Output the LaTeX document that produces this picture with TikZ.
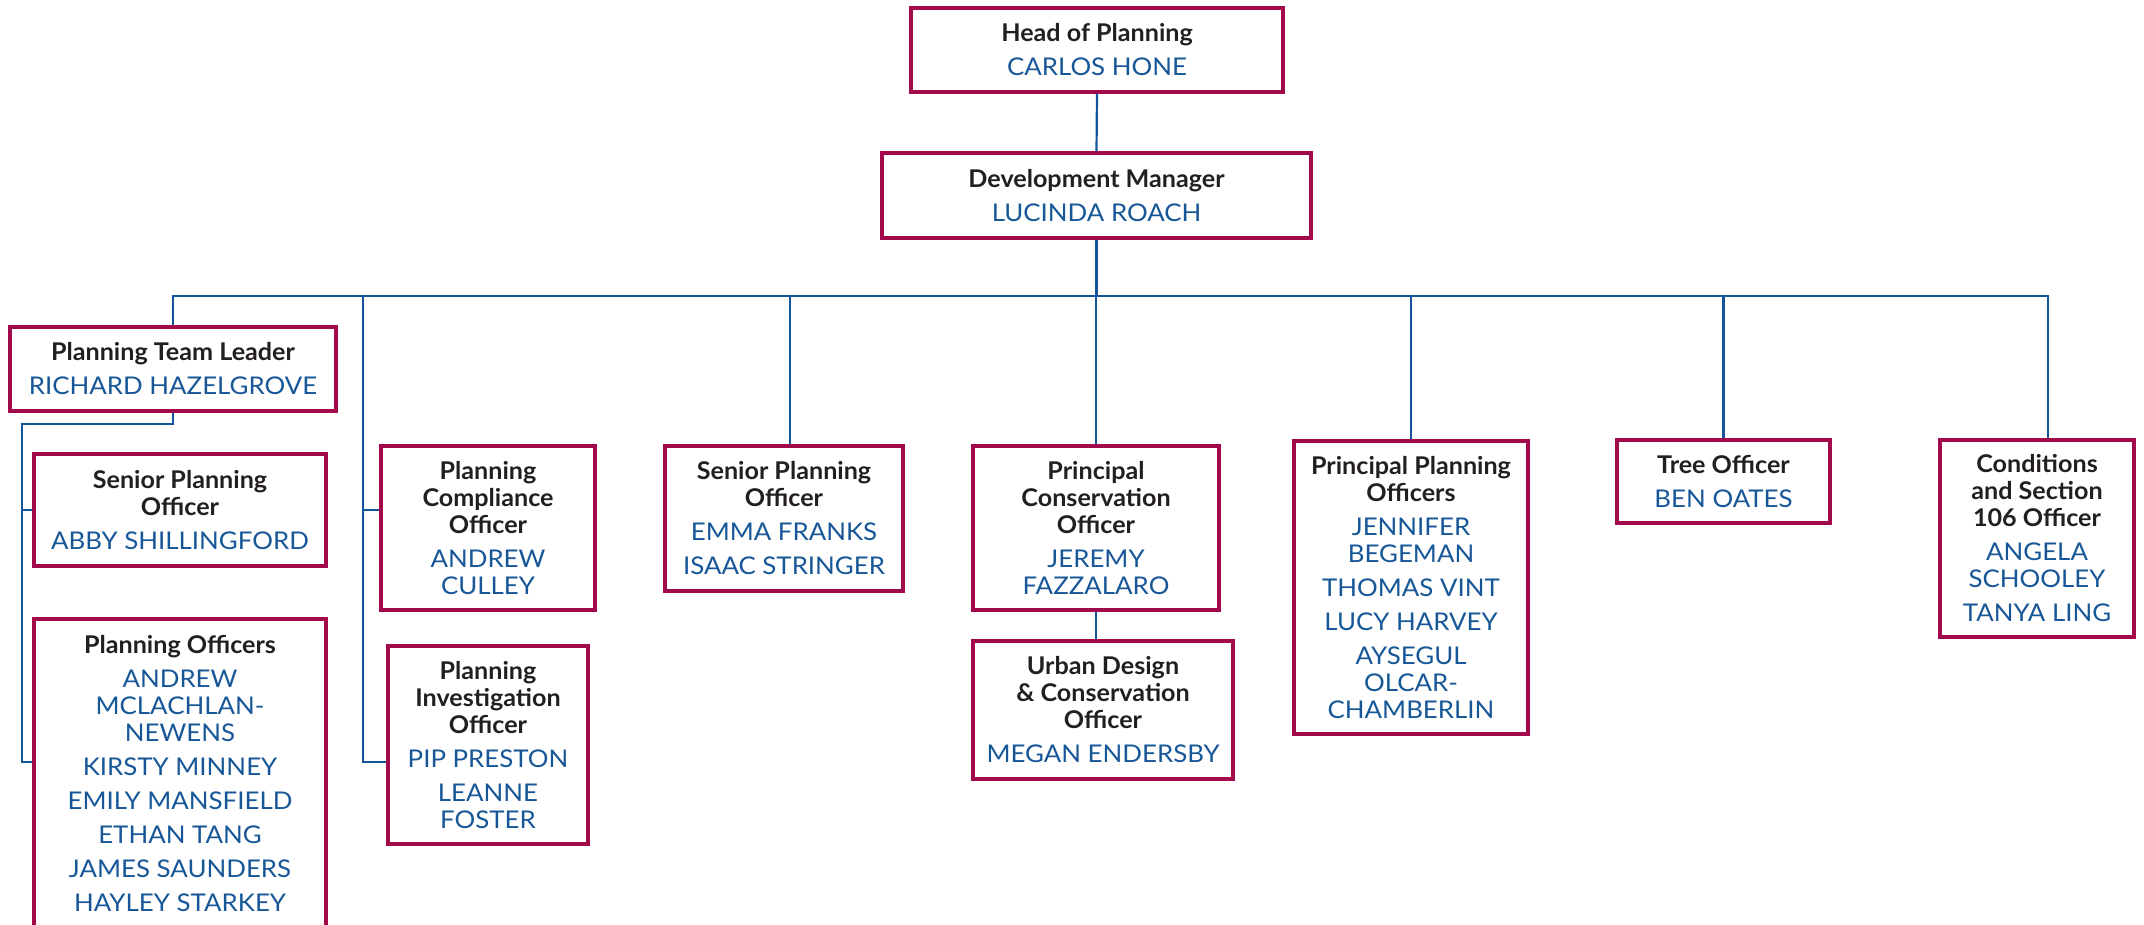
\documentclass[tikz,border=0pt]{standalone}
\usepackage{fontspec}
\setmainfont{Lato}[FakeStretch=1.03]
\newfontfamily\nmfont{Lato}[FakeStretch=1.06]
\definecolor{crim}{HTML}{A30A4B}
\definecolor{nblue}{HTML}{175798}
\definecolor{lblue}{HTML}{14549A}
\definecolor{tdark}{HTML}{231F20}
\newcommand\ttl[1]{{\bfseries\color{tdark}#1}}
\newcommand\nm[1]{{\nmfont\color{nblue}#1}}
\tikzset{
  box/.style={draw=crim, line width=3.2pt, fill=white, align=center, inner sep=0pt,
    font=\fontsize{24.4}{27}\selectfont},
  sz/.style 2 args={minimum width=#1pt, minimum height=#2pt},
  conn/.style={draw=lblue, line width=2.2pt},
}
\begin{document}
\begin{tikzpicture}[x=1pt,y=-1pt]
\useasboundingbox (0,0) rectangle (2144,925);
\clip (0,0) rectangle (2144,925);

% boxes
\node[box, sz={372}{84}] (head) at (1097,50) {\ttl{Head of Planning}\\[7pt]\nm{CARLOS HONE}};
\node[box, sz={429}{85}] (dm) at (1096.5,195.5) {\ttl{Development Manager}\\[7pt]\nm{LUCINDA ROACH}};

\node[box, sz={326}{84}] (ptl) at (173,369) {\ttl{Planning Team Leader}\\[7pt]\nm{RICHARD HAZELGROVE}};
\node[box, sz={292}{112}] (spoa) at (180,510) {\ttl{Senior Planning}\\\ttl{Officer}\\[7pt]\nm{ABBY SHILLINGFORD}};
\node[box, sz={292}{309}] (po) at (180,773.5) {\ttl{Planning Officers}\\[7pt]\nm{ANDREW}\\\nm{MCLACHLAN-}\\\nm{NEWENS}\\[7pt]\nm{KIRSTY MINNEY}\\[7pt]\nm{EMILY MANSFIELD}\\[7pt]\nm{ETHAN TANG}\\[7pt]\nm{JAMES SAUNDERS}\\[7pt]\nm{HAYLEY STARKEY}};

\node[box, sz={214}{164}] (pco) at (488,528) {\ttl{Planning}\\\ttl{Compliance}\\\ttl{Officer}\\[7pt]\nm{ANDREW}\\\nm{CULLEY}};
\node[box, sz={200}{198}] (pio) at (488,745) {\ttl{Planning}\\\ttl{Investigation}\\\ttl{Officer}\\[7pt]\nm{PIP PRESTON}\\[7pt]\nm{LEANNE}\\\nm{FOSTER}};

\node[box, sz={238}{145}] (spob) at (784,518.5) {\ttl{Senior Planning}\\\ttl{Officer}\\[7pt]\nm{EMMA FRANKS}\\[7pt]\nm{ISAAC STRINGER}};

\node[box, sz={246}{164}] (pcons) at (1096,528) {\ttl{Principal}\\\ttl{Conservation}\\\ttl{Officer}\\[7pt]\nm{JEREMY}\\\nm{FAZZALARO}};
\node[box, sz={260}{138}] (urban) at (1103,710) {\ttl{Urban Design}\\\ttl{\& Conservation}\\\ttl{Officer}\\[7pt]\nm{MEGAN ENDERSBY}};

\node[box, sz={234}{293}] (ppo) at (1411,587.5) {\ttl{Principal Planning}\\\ttl{Officers}\\[7pt]\nm{JENNIFER}\\\nm{BEGEMAN}\\[7pt]\nm{THOMAS VINT}\\[7pt]\nm{LUCY HARVEY}\\[7pt]\nm{AYSEGUL}\\\nm{OLCAR-}\\\nm{CHAMBERLIN}};

\node[box, sz={213}{83}] (tree) at (1723.5,481.5) {\ttl{Tree Officer}\\[7pt]\nm{BEN OATES}};
\node[box, sz={194}{197}] (cond) at (2037,538.5) {\ttl{Conditions}\\\ttl{and Section}\\\ttl{106 Officer}\\[7pt]\nm{ANGELA}\\\nm{SCHOOLEY}\\[7pt]\nm{TANYA LING}};

% helper coordinates
\coordinate (bus) at (0,296);
\coordinate (lb) at (363,296);
\coordinate (pl) at (22,424);
\coordinate (spobtop) at ([xshift=6pt]spob.north);
\coordinate (condtop) at ([xshift=11pt]cond.north);
\coordinate (pcoin) at ([yshift=18pt]pco.west);
\coordinate (pioin) at ([yshift=-17pt]pio.west);
\coordinate (poin) at ([yshift=11.5pt]po.west);

% connectors
\draw[conn] (head.south) -- (dm.north);
\draw[conn] (dm.south) -- (dm.south |- bus);
\draw[conn] (ptl.north) -- (ptl.north |- bus) -- (condtop |- bus) -- (condtop);
\draw[conn] (spobtop |- bus) -- (spobtop);
\draw[conn] (pcons.north |- bus) -- (pcons.north);
\draw[conn] (ppo.north |- bus) -- (ppo.north);
\draw[conn] (tree.north |- bus) -- (tree.north);
\draw[conn] (pcons.south) -- (pcons.south |- urban.north);

\draw[conn] (lb) -- (lb |- pioin) -- (pioin);
\draw[conn] (lb |- pcoin) -- (pcoin);

\draw[conn] (ptl.south) -- (ptl.south |- pl) -- (pl) -- (pl |- poin) -- (poin);
\draw[conn] (pl |- spoa.west) -- (spoa.west);
\end{tikzpicture}
\end{document}
